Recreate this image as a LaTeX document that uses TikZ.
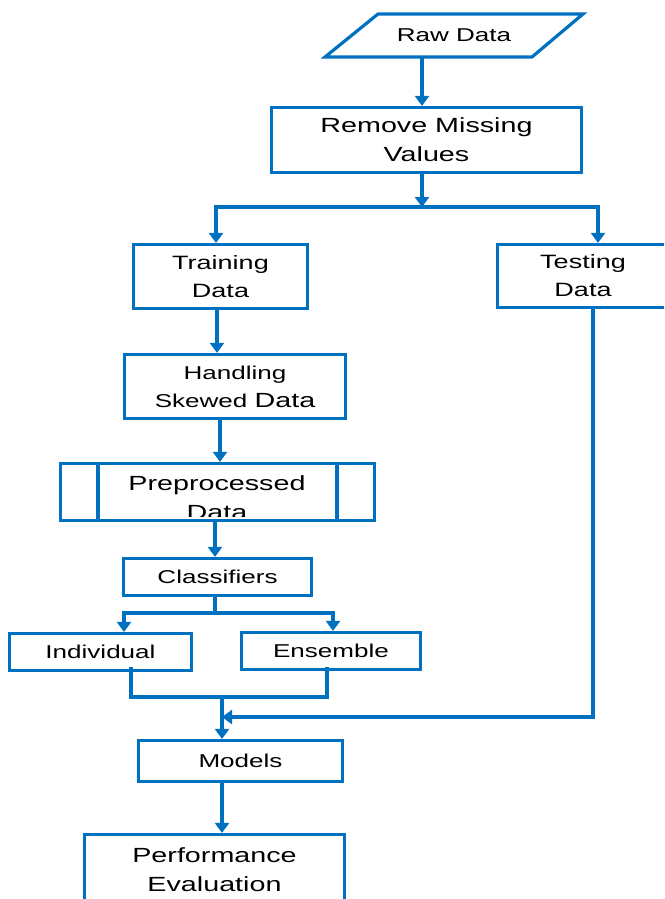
\documentclass[tikz,border=0pt]{standalone}
\usepackage{fontspec}
\setmainfont{Liberation Sans}[FakeStretch=1.4]
\usetikzlibrary{arrows.meta}
\definecolor{flowblue}{RGB}{0,112,192}

\begin{document}
\begin{tikzpicture}[x=1pt,y=-1pt,
		box/.style={draw=flowblue,line width=3.2pt,rectangle,inner sep=0pt,align=center},
		arr/.style={draw=flowblue,line width=3.2pt,-{Triangle[width=14pt,length=10pt]}},
		link/.style={draw=flowblue,line width=3.2pt},
		fa/.style={font=\fontsize{18.6}{28}\selectfont},
		fb/.style={font=\fontsize{20.5}{29}\selectfont}]
		\useasboundingbox (0,0) rectangle (664,899);
		\clip (0,0) rectangle (664,899);
		% boxes
		\draw[link] (325,57) -- (378,14) -- (583,14) -- (532,57) -- cycle;
		\node[fa,minimum width=207,minimum height=43] (raw) at (454,35.5) {Raw Data};
		\node[box,fb,minimum width=310,minimum height=65] (remove) at (426.5,140) {Remove Missing\\Values};
		\node[box,font=\fontsize{19.3}{28}\selectfont,minimum width=174,minimum height=64] (train) at (220.5,276.5) {Training\\Data};
		\node[box,font=\fontsize{19.3}{28}\selectfont,minimum width=171,minimum height=63] (test) at (583,276) {Testing\\Data};
		\node[box,fa,minimum width=221,minimum height=64] (handle) at (235,386.5) {Handling\\Skewed {\fontsize{20.5}{28}\selectfont Data}};
		\node[box,minimum width=314,minimum height=57] (prep) at (217.5,492) {};
		\draw[link] ([xshift=-119.5]prep.north) -- ([xshift=-119.5]prep.south);
		\draw[link] ([xshift=119.5]prep.north) -- ([xshift=119.5]prep.south);
		\begin{scope}
			\clip (prep.north west) rectangle ([yshift=5.5]prep.south east);
			\node[fb,align=center] (preptxt) at (217,497.5) {Preprocessed\\Data};
		\end{scope}
		\node[box,fa,minimum width=188,minimum height=37] (cls) at (217.5,577) {Classifiers};
		\node[box,fa,minimum width=182,minimum height=37] (ind) at (100.5,652) {Individual};
		\node[box,fa,minimum width=179,minimum height=37] (ens) at (331,651) {Ensemble};
		\node[box,fa,minimum width=204,minimum height=41] (models) at (240.5,761) {Models};
		\node[box,fb,minimum width=260,minimum height=70] (perf) at (214.5,869.5) {Performance\\Evaluation};
		% connectors
		\coordinate (split1) at (422,207);
		\coordinate (split2) at (215,613);
		\coordinate (join) at (222,697);
		\coordinate (merge) at (222,717);
		\draw[arr] ([xshift=-32]raw.south) -- ([xshift=-4.5]remove.north);
		\draw[arr] ([xshift=-4.5]remove.south) -- (split1);
		\draw[arr] (split1) -| ([xshift=-4.5]train.north);
		\draw[arr] (split1) -| ([xshift=15]test.north);
		\draw[arr] ([xshift=-3.5]train.south) -- ([xshift=-3.5]train.south |- handle.north);
		\draw[arr] ([xshift=-15]handle.south) -- ([xshift=-15]handle.south |- prep.north);
		\draw[arr] ([xshift=-2.5]prep.south) -- ([xshift=-2.5]prep.south |- cls.north);
		\draw[link] ([xshift=-2.5]cls.south) -- (split2);
		\draw[arr] (split2) -| ([xshift=23.5]ind.north);
		\draw[arr] (split2) -| ([xshift=2]ens.north);
		\draw[link] ([xshift=30.5,yshift=5.5]ind.south) |- (join) -| ([xshift=-4,yshift=4.5]ens.south);
		\draw[arr] (join) -- (join |- models.north);
		\draw[arr] ([xshift=10]test.south) |- (merge);
		\draw[arr] (join |- models.south) -- (join |- perf.north);
	\end{tikzpicture}
\end{document}
